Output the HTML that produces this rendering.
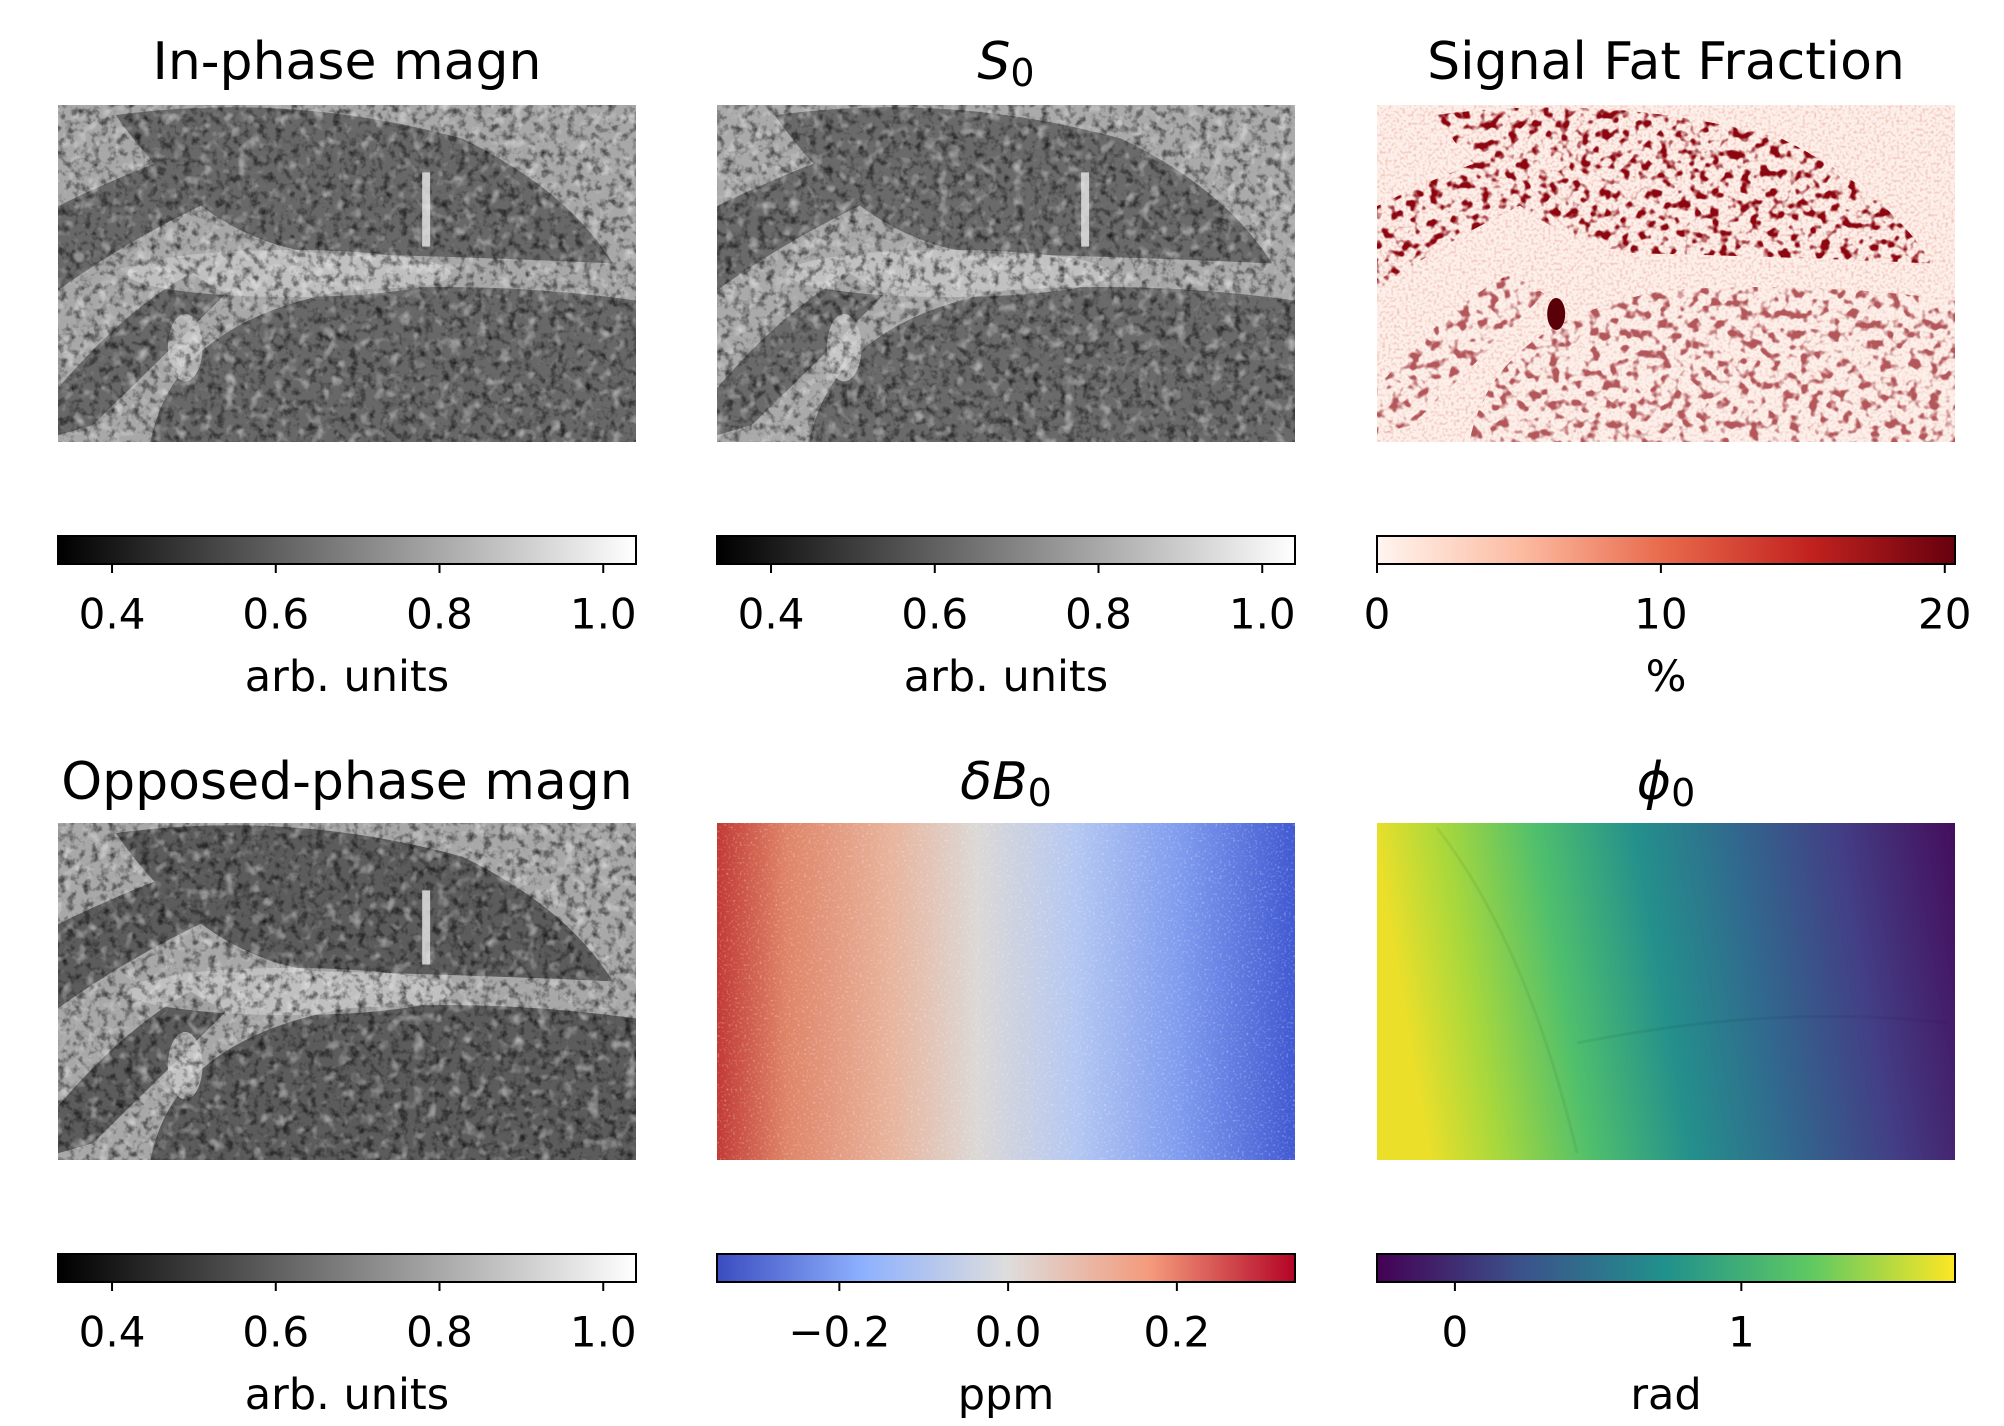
<!DOCTYPE html>
<html><head><meta charset="utf-8">
<style>
html,body{margin:0;padding:0;background:#fff;}
svg{display:block;font-family:"DejaVu Sans","Liberation Sans",sans-serif;}
filter{color-interpolation-filters:sRGB;}
</style></head>
<body>
<svg id="fig" width="2004" height="1426" viewBox="0 0 2004 1426" xmlns="http://www.w3.org/2000/svg">
<defs>
  <filter id="grayNoise" x="0" y="0" width="100%" height="100%" color-interpolation-filters="sRGB">
    <feTurbulence type="fractalNoise" baseFrequency="0.12" numOctaves="3" seed="3" result="t"/>
    <feColorMatrix in="t" type="matrix" values="0 0 0 0 0  0 0 0 0 0  0 0 0 0 0  -1.6 0 0 0 0.85" result="d"/>
    <feTurbulence type="fractalNoise" baseFrequency="0.08" numOctaves="2" seed="9" result="t2"/>
    <feColorMatrix in="t2" type="matrix" values="0 0 0 0 1  0 0 0 0 1  0 0 0 0 1  1.4 0 0 0 -0.75" result="w"/>
    <feMerge><feMergeNode in="SourceGraphic"/><feMergeNode in="d"/><feMergeNode in="w"/></feMerge>
  </filter>
  <filter id="fineNoise" x="0" y="0" width="100%" height="100%" color-interpolation-filters="sRGB">
    <feTurbulence type="fractalNoise" baseFrequency="0.45" numOctaves="1" seed="7" result="t"/>
    <feColorMatrix in="t" type="matrix" values="0 0 0 0 1  0 0 0 0 1  0 0 0 0 1  2.2 0 0 0 -1.2" result="w"/>
    <feMerge><feMergeNode in="SourceGraphic"/><feMergeNode in="w"/></feMerge>
  </filter>
  <filter id="fatSpots" x="0" y="0" width="100%" height="100%" color-interpolation-filters="sRGB">
    <feTurbulence type="fractalNoise" baseFrequency="0.1" numOctaves="2" seed="11" result="t"/>
    <feColorMatrix in="t" type="matrix" values="0 0 0 0 0.55  0 0 0 0 0.02  0 0 0 0 0.06  6 0 0 0 -3.1"/>
  </filter>
  <filter id="fatFaint" x="0" y="0" width="100%" height="100%" color-interpolation-filters="sRGB">
    <feTurbulence type="fractalNoise" baseFrequency="0.35" numOctaves="1" seed="5" result="t"/>
    <feColorMatrix in="t" type="matrix" values="0 0 0 0 0.88  0 0 0 0 0.45  0 0 0 0 0.38  2.4 0 0 0 -1.1"/>
  </filter>
  <linearGradient id="gGray" x1="0" x2="1"><stop offset="0" stop-color="#000"/><stop offset="1" stop-color="#fff"/></linearGradient>
  <linearGradient id="gReds" x1="0" x2="1"><stop offset="0" stop-color="#fff5f0"/><stop offset="0.25" stop-color="#fcbba1"/><stop offset="0.5" stop-color="#e8684a"/><stop offset="0.75" stop-color="#c2221f"/><stop offset="1" stop-color="#67000d"/></linearGradient>
  <linearGradient id="gCool" x1="0" x2="1"><stop offset="0" stop-color="#3b4cc0"/><stop offset="0.25" stop-color="#8db0fe"/><stop offset="0.5" stop-color="#dddddd"/><stop offset="0.75" stop-color="#f49a7b"/><stop offset="1" stop-color="#b40426"/></linearGradient>
  <linearGradient id="gVir" x1="0" x2="1"><stop offset="0" stop-color="#440154"/><stop offset="0.25" stop-color="#3b528b"/><stop offset="0.5" stop-color="#21918c"/><stop offset="0.75" stop-color="#5ec962"/><stop offset="1" stop-color="#fde725"/></linearGradient>
  <linearGradient id="b0Img" x1="0" x2="1"><stop offset="0" stop-color="#c23a35"/><stop offset="0.12" stop-color="#df8468"/><stop offset="0.3" stop-color="#e8b49c"/><stop offset="0.45" stop-color="#dcd8d6"/><stop offset="0.62" stop-color="#b5c8f2"/><stop offset="0.8" stop-color="#7f9cef"/><stop offset="1" stop-color="#4159d2"/></linearGradient>
  <linearGradient id="phiImg" x1="0" y1="0.1" x2="1" y2="0"><stop offset="0" stop-color="#ecdf2a"/><stop offset="0.12" stop-color="#a8d83c"/><stop offset="0.28" stop-color="#4fbf6d"/><stop offset="0.45" stop-color="#24908c"/><stop offset="0.62" stop-color="#31688e"/><stop offset="0.8" stop-color="#433e85"/><stop offset="1" stop-color="#440e5c"/></linearGradient>
</defs>
<g id="root"></g>
</svg>
<script>
// colorbar data
var grayTicks = [0.4, 0.6, 0.8, 1.0];
var grayTickLabels = ["0.4", "0.6", "0.8", "1.0"];
var grayRange = [0.334, 1.04];
var fatTicks = [0, 10, 20];
var fatTickLabels = ["0", "10", "20"];
var fatRange = [0, 20.36];
var b0Ticks = [-0.2, 0.0, 0.2];
var b0TickLabels = ["\u22120.2", "0.0", "0.2"];
var b0Range = [-0.345, 0.34];
var phiTicks = [0, 1];
var phiTickLabels = ["0", "1"];
var phiRange = [-0.272, 1.746];

var NS = "http://www.w3.org/2000/svg";
var root = document.getElementById("root");
function mk(tag, attrs, parent){
  var e = document.createElementNS(NS, tag);
  for (var k in attrs) e.setAttribute(k, attrs[k]);
  (parent || root).appendChild(e);
  return e;
}
var colX = [58, 717, 1377], W = 578;
var rowImgY = [105, 823], IH = 337;
var rowCbY = [536, 1254], CH = 28;

function lobes(g, x, y, fill){
  function P(d){ return d.replace(/(-?[\d.]+),(-?[\d.]+)/g, function(m,a,b){ return (x + parseFloat(a)*W).toFixed(1)+","+(y+parseFloat(b)*IH).toFixed(1); }); }
  var shapes = [
    "M0.1,0.03 Q0.4,-0.04 0.7,0.1 Q0.88,0.25 0.96,0.47 Q0.7,0.45 0.45,0.44 Q0.25,0.4 0.1,0.03 Z",
    "M0,0.3 Q0.12,0.2 0.22,0.14 L0.27,0.28 Q0.12,0.4 0,0.55 Z",
    "M0.16,1 Q0.2,0.64 0.5,0.55 Q0.75,0.52 1,0.58 L1,1 Z",
    "M0,0.84 Q0.12,0.6 0.23,0.5 L0.29,0.56 Q0.18,0.75 0.06,0.95 L0,0.98 Z"
  ];
  var out = [];
  shapes.forEach(function(s){ out.push(mk("path", {d:P(s), fill:fill}, g)); });
  return out;
}

function title(txt, cx, cy, sub){
  var t = mk("text", {x:cx, y:cy, "font-size":52, "text-anchor":"middle", "dominant-baseline":"central", fill:"#000"});
  if (sub){
    var a = mk("tspan", {"font-style":"italic"}, t); a.textContent = txt;
    var b = mk("tspan", {"font-size":38, dy:11}, t); b.textContent = sub;
  } else t.textContent = txt;
  return t;
}

function grayImage(x, y, name, bg, dark){
  var g = mk("g", {});
  
  
  var inner = mk("g", {filter:"url(#grayNoise)"}, g);
  mk("rect", {x:x, y:y, width:W, height:IH, fill:bg}, inner);
  lobes(inner, x, y, dark);
  mk("ellipse", {cx:x+0.4*W, cy:y+0.5*IH, rx:0.28*W, ry:0.07*IH, fill:"#d0d0d0", opacity:0.6}, inner);
  mk("ellipse", {cx:x+0.22*W, cy:y+0.72*IH, rx:0.03*W, ry:0.1*IH, fill:"#d0d0d0", opacity:0.7}, inner);
  mk("rect", {x:x+0.63*W, y:y+0.2*IH, width:8, height:0.22*IH, fill:"#e8e8e8", opacity:0.8}, g);
  mk("rect", {x:x, y:y, width:W, height:IH, fill:"#000", opacity:0, filter:"url(#fineNoise)"}, g);
}

function colorbar(x, y, grad, ticks, labels, range, label, name){
  var g = mk("g", {});
  
  
  mk("rect", {x:x, y:y, width:W, height:CH, fill:"url(#"+grad+")", stroke:"#000", "stroke-width":2}, g);
  function sx(v){ return x + (v - range[0]) / (range[1] - range[0]) * W; }
  for (var i = 0; i < ticks.length; i++){
    var tx = sx(ticks[i]);
    var tk = mk("line", {x1:tx, x2:tx, y1:y+CH, y2:y+CH+9, stroke:"#000", "stroke-width":2}, g);
    
    
    var tl = mk("text", {x:tx, y:y+CH+50, "font-size":42, "text-anchor":"middle", "dominant-baseline":"central"}, g);
    
    
    tl.textContent = labels[i];
  }
  var xl = mk("text", {x:x+W/2, y:y+CH+113, "font-size":43, "text-anchor":"middle", "dominant-baseline":"central"}, g);
  
  
  xl.textContent = label;
}

var t;
t = title("In-phase magn", colX[0]+W/2, 62);  
t = title("S", colX[1]+W/2, 62, "0");  
t = title("Signal Fat Fraction", colX[2]+W/2, 62);  
t = title("Opposed-phase magn", colX[0]+W/2, 782);  
t = title("\u03B4B", colX[1]+W/2, 782, "0");  
t = title("\u03D5", colX[2]+W/2, 782, "0");  

grayImage(colX[0], rowImgY[0], "in-phase-image", "#a8a8a8", "#686868");
grayImage(colX[1], rowImgY[0], "s0-image", "#aaaaaa", "#6a6a6a");
grayImage(colX[0], rowImgY[1], "opposed-phase-image", "#a8a8a8", "#5c5c5c");

// fat fraction
(function(){
  var x = colX[2], y = rowImgY[0];
  var g = mk("g", {});
  
  
  mk("rect", {x:x, y:y, width:W, height:IH, fill:"#fdf0ea"}, g);
  mk("rect", {x:x, y:y, width:W, height:IH, filter:"url(#fatFaint)", opacity:0.45}, g);
  var cp = mk("clipPath", {id:"fatClip"}, g);
  lobes(cp, x, y, "#000");
  var sp = mk("g", {"clip-path":"url(#fatClip)"}, g);
  mk("rect", {x:x, y:y, width:W, height:IH, filter:"url(#fatSpots)"}, sp);
  mk("rect", {x:x, y:y+0.52*IH, width:W, height:0.48*IH, fill:"#fdf0ea", opacity:0.35}, sp);
  mk("ellipse", {cx:x+0.31*W, cy:y+0.62*IH, rx:9, ry:16, fill:"#5a0008"}, g);
})();

// B0
(function(){
  var x = colX[1], y = rowImgY[1];
  var g = mk("g", {});
  
  
  mk("rect", {x:x, y:y, width:W, height:IH, fill:"url(#b0Img)"}, g);
  mk("rect", {x:x, y:y, width:W, height:IH, fill:"url(#b0Img)", opacity:0.55, filter:"url(#fineNoise)"}, g);
})();

// phi0
(function(){
  var x = colX[2], y = rowImgY[1];
  var g = mk("g", {});
  
  
  mk("rect", {x:x, y:y, width:W, height:IH, fill:"url(#phiImg)"}, g);
  mk("path", {d:"M"+(x+60)+","+(y+5)+" Q"+(x+150)+","+(y+120)+" "+(x+200)+","+(y+330), stroke:"#000", "stroke-opacity":0.06, "stroke-width":3, fill:"none"}, g);
  mk("path", {d:"M"+(x+200)+","+(y+220)+" Q"+(x+400)+","+(y+180)+" "+(x+570)+","+(y+200), stroke:"#000", "stroke-opacity":0.06, "stroke-width":3, fill:"none"}, g);
})();

colorbar(colX[0], rowCbY[0], "gGray", grayTicks, grayTickLabels, grayRange, "arb. units", "colorbar-in-phase");
colorbar(colX[1], rowCbY[0], "gGray", grayTicks, grayTickLabels, grayRange, "arb. units", "colorbar-s0");
colorbar(colX[2], rowCbY[0], "gReds", fatTicks, fatTickLabels, fatRange, "%", "colorbar-fat-fraction");
colorbar(colX[0], rowCbY[1], "gGray", grayTicks, grayTickLabels, grayRange, "arb. units", "colorbar-opposed-phase");
colorbar(colX[1], rowCbY[1], "gCool", b0Ticks, b0TickLabels, b0Range, "ppm", "colorbar-delta-b0");
colorbar(colX[2], rowCbY[1], "gVir", phiTicks, phiTickLabels, phiRange, "rad", "colorbar-phi0");
</script>
</body></html>
